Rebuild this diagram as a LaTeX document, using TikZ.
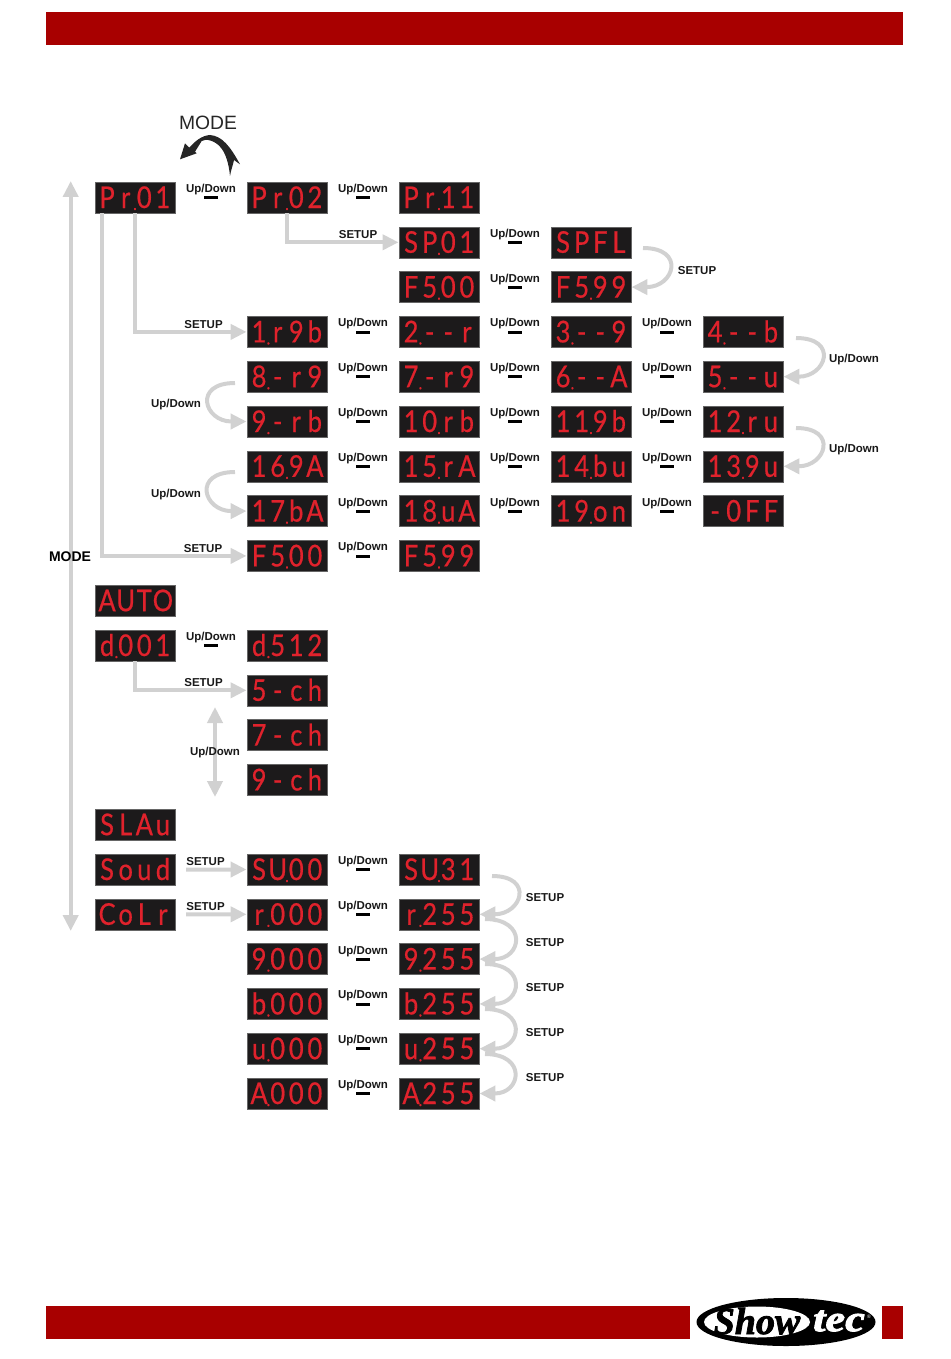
\documentclass[tikz,border=0pt]{standalone}
\usepackage{fontspec}
\setmainfont{Liberation Sans}
\newfontfamily\segfont[FakeStretch=0.85,FakeBold=0.5]{Lato}
\newfontfamily\logofont[BoldItalicFeatures={FakeBold=2}]{Liberation Serif}
\usetikzlibrary{arrows.meta,shapes.geometric}
\definecolor{barred}{HTML}{A80000}
\definecolor{ledred}{HTML}{E0222C}
\definecolor{ledback}{HTML}{1C1A1B}

% every character of a readout sits in its own cell, the dots take no room
\makeatletter
\newcommand{\segcells}[1]{\@tfor\segch:=#1\do{\if.\segch\makebox[0pt]{\raisebox{-2pt}{\fontsize{17}{17}\selectfont.}}\else\makebox[18.6pt]{\segch}\fi}}
\newcommand{\segtext}[1]{\edef\segarg{#1}\expandafter\segcells\expandafter{\segarg}}
\makeatother

\begin{document}
\begin{tikzpicture}[x=1pt,y=-1pt,>={Triangle[length=16pt,width=15pt]}]
    \tikzstyle{every node}=[inner sep=0pt]
    \tikzstyle{display}=[rectangle,fill=ledback,draw=black!60,line width=0.4pt,minimum width=80.5pt,minimum height=31pt,text=ledred,font=\segfont\fontsize{30}{30}\selectfont,text height=21pt,text depth=0pt]
    \tikzstyle{annot}=[font=\bfseries\fontsize{11.5}{12}\selectfont,text=black!90]
    \tikzstyle{minus}=[rectangle,fill=black,minimum width=14pt,minimum height=3pt]
    \tikzstyle{flow}=[draw=black!18,line width=4pt]
    \tikzstyle{redbar}=[rectangle,fill=barred,minimum height=33pt,anchor=north west]

    \useasboundingbox (0,0) rectangle (950,1359);

    % Draw the bars of the page
    \node[redbar,minimum width=857pt] (top bar) at (46,12) {};
    \node[redbar,minimum width=644pt] (low bar) at (46,1306) {};
    \node[redbar,minimum width=21pt] (end bar) at (882,1306) {};

    % Draw the displays
    \foreach \r/\c/\t in {1/1/Pr.01,1/2/Pr.02,1/3/Pr.11,
        2/3/SP.01,2/4/SPFL,3/3/F5.00,3/4/F5.99,
        4/2/1.r9b,4/3/2.--r,4/4/3.--9,4/5/4.--b,
        5/2/8.-r9,5/3/7.-r9,5/4/6.--A,5/5/5.--u,
        6/2/9.-rb,6/3/10.rb,6/4/11.9b,6/5/12.ru,
        7/2/16.9A,7/3/15.rA,7/4/14.bu,7/5/13.9u,
        8/2/17.bA,8/3/18.uA,8/4/19.on,8/5/-0FF,
        9/2/F5.00,9/3/F5.99,10/1/AUTO,
        11/1/d.001,11/2/d.512,12/2/5-ch,13/2/7-ch,14/2/9-ch,
        15/1/SLAu,16/1/Soud,16/2/SU.00,16/3/SU.31,
        17/1/CoLr,17/2/r.000,17/3/r.255,18/2/9.000,18/3/9.255,
        19/2/b.000,19/3/b.255,20/2/u.000,20/3/u.255,21/2/A.000,21/3/A.255}
        \node[display] (d\r-\c) at ({135+152*(\c-1)},{197.5+44.8*(\r-1)}) {\segtext{\t}};

    % Draw the Up/Down marks between the displays
    \foreach \r/\g in {1/1,1/2,2/3,3/3,4/2,4/3,4/4,5/2,5/3,5/4,6/2,6/3,6/4,
        7/2,7/3,7/4,8/2,8/3,8/4,9/2,11/1,16/2,17/2,18/2,19/2,20/2,21/2}{
        \node[annot] (u\r-\g) at ({211+152*(\g-1)},{189.5+44.8*(\r-1)}) {Up/Down};
        \node[minus] (m\r-\g) at ({211+152*(\g-1)},{197.6+44.8*(\r-1)}) {};
    }

    % Free ends of the arrows
    \foreach \name/\x/\y in {mode top/70.7/181,mode low/70.7/931,ch top/215/707,ch low/215/797,
        soud/186/869.5,colr/186/914.3,
        c1/643/248,c2/796/338,c3/796/428,c4/235/383,c5/235/472,
        c6/492/876,c7/485/919,c8/485/964,c9/485/1009,c10/485/1054}
        \coordinate (\name) at (\x,\y);

    % Straight connections
    \draw[flow,<->] (mode top) -- (mode low);
    \draw[flow,<->] (ch top) -- (ch low);
    \draw[flow,->] (d1-1.south) |- (d4-2.west);
    \draw[flow,->] ([xshift=-33.5pt]d1-1.south) |- (d9-2.west);
    \draw[flow,->] (d1-2.south) |- (d2-3.west);
    \draw[flow,->] (d11-1.south) |- (d12-2.west);
    \draw[flow,->] (soud) -- (d16-2.west);
    \draw[flow,->] (colr) -- (d17-2.west);

    % Bent arrows on the right side of a display
    \foreach \a/\b in {c1/d3-4,c2/d5-5,c3/d7-5,c6/d17-3,c7/d18-3,c8/d19-3,c9/d20-3,c10/d21-3}
        \draw[flow,->] (\a) to[out=0,in=0,looseness=2.7] (\b.east);
    % and on the left side
    \foreach \a/\b in {c4/d6-2,c5/d8-2}
        \draw[flow,->] (\a) to[out=180,in=180,looseness=2.7] (\b.west);

    % Annotate the arrows
    \foreach \name/\x/\y in {s1/358/234.5,s2/203.5/324.5,s3/203/548.5,s4/203.5/682.5,s5/205.5/861.5,s6/205.5/906.5,
        s7/697/270.5,s8/545/897.5,s9/545/942.5,s10/545/987.5,s11/545/1032.5,s12/545/1077.5}
        \node[annot] (\name) at (\x,\y) {SETUP};
    \foreach \name/\x/\y in {a1/854/360,a2/854/450,a3/176/405,a4/176/495,a5/215/753}
        \node[annot] (\name) at (\x,\y) {Up/Down};
    \node[font=\bfseries\fontsize{14}{14}\selectfont] (mode side) at (70,557) {MODE};
    \node[font=\fontsize{19.3}{20}\selectfont,text=black!85] (mode head) at (208,123) {MODE};

    % Black arrow under the heading
    \fill[black!85] (180,159.3) -- (185,143.3) -- (189.3,147.7)
        .. controls (195,141) and (202,135.5) .. (210,135)
        .. controls (222,136) and (230,146) .. (240,164.3)
        -- (234,160) .. controls (233,165) and (231,170) .. (230,176)
        .. controls (229,165) and (226,153) .. (220,146.7)
        .. controls (215,141) and (206,138) .. (201.7,141)
        -- (195,151.7) -- (196.7,153.3) -- cycle;

    % Draw the logo
    \node[ellipse,fill=black,minimum width=179pt,minimum height=48pt] (logo) at (786,1322) {};
    \node[ellipse,fill=white,minimum width=106pt,minimum height=31pt] (logo white) at (757,1322) {};
    \node[font=\logofont\bfseries\itshape\fontsize{38}{38}\selectfont] (show) at (757,1321) {Show};
    \node[font=\logofont\bfseries\itshape\fontsize{37}{37}\selectfont,text=white] (tec) at (839,1321) {\scalebox{1.2}[1]{tec}};
    \node[font=\fontsize{5}{5}\selectfont,text=white] (reg) at (869,1317) {®};
\end{tikzpicture}
\end{document}
